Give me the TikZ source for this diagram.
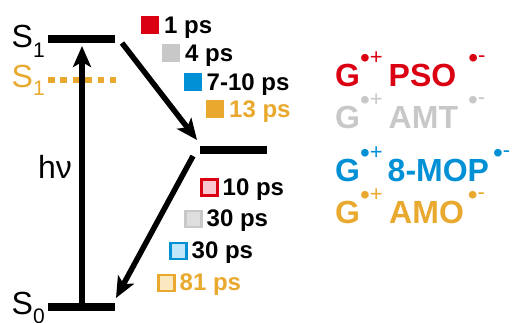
\documentclass[tikz,border=0pt]{standalone}
\usepackage{fontspec}
\setmainfont{Liberation Sans}
\usetikzlibrary{arrows.meta,calc}

\definecolor{cRed}{RGB}{218,0,18}
\definecolor{cGray}{RGB}{200,200,200}
\definecolor{cBlue}{RGB}{0,144,214}
\definecolor{cOrange}{RGB}{233,169,46}
\definecolor{cRedL}{RGB}{248,200,206}
\definecolor{cGrayL}{RGB}{222,222,222}
\definecolor{cBlueL}{RGB}{192,230,250}
\definecolor{cOrangeL}{RGB}{250,232,192}

\newcommand{\fsz}[1]{\fontsize{#1}{#1}\selectfont}
% radical-ion superscripts: unpaired-electron dot and charge signs
\newcommand{\rdot}{\raisebox{18.5pt}{\fsz{28}\mdseries •}}
\newcommand{\cplus}{\raisebox{21.5pt}{\fsz{22}\mdseries +}}
\newcommand{\cminus}{\raisebox{24pt}{\fsz{22}\mdseries -}}

\begin{document}
\begin{tikzpicture}[x=1pt,y=-1pt,
  levelline/.style={line width=7.5pt},
  dotlevel/.style={line width=6.5pt, cOrange, dash pattern=on 6.5pt off 5.9pt},
  trans/.style={line width=5.5pt, -{Stealth[length=21pt,width=18pt,inset=5pt]}},
  fsq/.style={minimum size=18pt, inner sep=0pt, outer sep=0pt, fill=#1},
  osq/.style={minimum size=16pt, inner sep=0pt, outer sep=0pt, line width=2.5pt},
  tlbl/.style={font=\fsz{24}\bfseries, inner sep=0pt, anchor=base west},
  statelbl/.style={font=\fsz{32}, inner sep=0pt, anchor=base west},
  mol/.style={font=\fsz{32}\bfseries, inner sep=0pt, anchor=base west},
]
\useasboundingbox (0,0) rectangle (518,322);

% energy levels
\coordinate (s1a) at (48,39);   \coordinate (s1b) at (115,39);
\coordinate (s1oa) at (48,80);  \coordinate (s1ob) at (116,80);
\coordinate (ma) at (200,150);  \coordinate (mb) at (267,150);
\coordinate (s0a) at (48,307);  \coordinate (s0b) at (115,307);
\draw[levelline] (s1a) -- (s1b);
\draw[dotlevel] (s1oa) -- (s1ob);
\draw[levelline] (ma) -- (mb);
\draw[levelline] (s0a) -- (s0b);

% state labels
\node[statelbl] (lS1) at (11.5,47.5) {S\raisebox{-9.5pt}{\fsz{21}1}};
\node[statelbl, text=cOrange] (lS1o) at (11.5,87) {S\raisebox{-8.5pt}{\fsz{21}1}};
\node[statelbl] (lS0) at (11.5,314) {S\raisebox{-9.5pt}{\fsz{21}0}};
\node[statelbl] (lhv) at (38,178) {hν};

% transitions
\coordinate (exc0) at (82,307);  \coordinate (exc1) at (82,46);
\coordinate (d1a) at (122,43);   \coordinate (d1b) at (197,140);
\coordinate (d2a) at (193,156);  \coordinate (d2b) at (116,298);
\draw[trans] (exc0) -- (exc1);
\draw[trans] (d1a) -- (d1b);
\draw[trans] (d2a) -- (d2b);

% forward time constants
\node[fsq=cRed]    (q1) at (150,25) {};
\node[fsq=cGray]   (q2) at (171,53) {};
\node[fsq=cBlue]   (q3) at (192.5,82) {};
\node[fsq=cOrange] (q4) at (215,109) {};
\node[tlbl] (t1) at ($(q1.south east)+(5,-0.5)$) {1 ps};
\node[tlbl] (t2) at ($(q2.south east)+(5,-0.5)$) {4 ps};
\node[tlbl] (t3) at ($(q3.south east)+(5,-0.5)$) {7-10 ps};
\node[tlbl, text=cOrange] (t4) at ($(q4.south east)+(5,-0.5)$) {13 ps};

% recombination time constants
\node[osq, draw=cRed, fill=cRedL]       (p1) at (209.5,187.5) {};
\node[osq, draw=cGray, fill=cGrayL]     (p2) at (193.5,219) {};
\node[osq, draw=cBlue, fill=cBlueL]     (p3) at (178.5,251) {};
\node[osq, draw=cOrange, fill=cOrangeL] (p4) at (166.5,283) {};
\node[tlbl] (u1) at ($(p1.south east)+(5,-0.5)$) {10 ps};
\node[tlbl] (u2) at ($(p2.south east)+(5,-0.5)$) {30 ps};
\node[tlbl] (u3) at ($(p3.south east)+(5,-0.5)$) {30 ps};
\node[tlbl, text=cOrange] (u4) at ($(p4.south east)+(5,-0.5)$) {81 ps};

% radical ion pairs
\node[mol, text=cRed]    (m1) at (335,86)  {G\rdot\cplus\hspace{6pt}PSO\hspace{12pt}\rdot\cminus};
\node[mol, text=cGray]   (m2) at (335,128) {G\rdot\cplus\hspace{6pt}AMT\hspace{10pt}\rdot\cminus};
\node[mol, text=cBlue]   (m3) at (335,181) {G\rdot\cplus\hspace{5pt}8-MOP\hspace{4pt}\rdot\cminus};
\node[mol, text=cOrange] (m4) at (335,223) {G\rdot\cplus\hspace{6.5pt}AMO\hspace{4pt}\rdot\cminus};
\end{tikzpicture}
\end{document}
